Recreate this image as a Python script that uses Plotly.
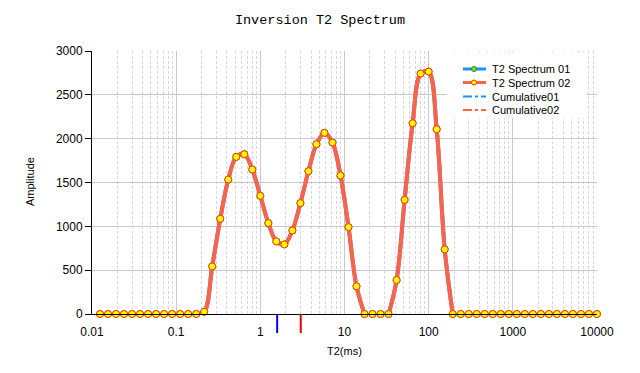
import plotly.graph_objects as go

# ---------------- data ----------------
title_text = "Inversion T2 Spectrum"
x_title = "T2(ms)"
y_title = "Amplitude"

t2_ms = [
    0.01245, 0.01551, 0.01931, 0.02404, 0.02994, 0.03728, 0.04642, 0.05780, 0.07197, 0.08962,
    0.1116, 0.1389, 0.1730, 0.2154, 0.2683, 0.3340, 0.4160, 0.5179, 0.6449, 0.8031,
    1.000, 1.245, 1.551, 1.931, 2.404, 2.994, 3.728, 4.642, 5.780, 7.197, 8.962,
    11.16, 13.89, 17.30, 21.54, 26.83, 33.40, 41.60, 51.79, 64.49, 80.31,
    100.0, 124.5, 155.1, 193.1, 240.4, 299.4, 372.8, 464.2, 578.0, 719.7, 896.2,
    1116, 1389, 1730, 2154, 2683, 3340, 4160, 5179, 6449, 8031, 10000,
]

amplitude_02 = [
    0, 0, 0, 0, 0, 0, 0, 0, 0, 0,
    0, 0, 0, 25, 543, 1086, 1534, 1792, 1823, 1648,
    1348, 1037, 828, 794, 953, 1265, 1629, 1937, 2066, 1956, 1580,
    991, 316, 0, 0, 0, 0, 387, 1302, 2176, 2742,
    2765, 2108, 737, 0, 0, 0, 0, 0, 0, 0, 0,
    0, 0, 0, 0, 0, 0, 0, 0, 0, 0, 0,
]
amplitude_01 = list(amplitude_02)  # series 01 lies exactly under series 02

series_names = ["T2 Spectrum 01", "T2 Spectrum 02", "Cumulative01", "Cumulative02"]
series_colors = ["#1E90FF", "#FF6347", "#1E90FF", "#FF6347"]

x_tick_vals = [0.01, 0.1, 1, 10, 100, 1000, 10000]
x_tick_text = ["0.01", "0.1", "1", "10", "100", "1000", "10000"]
y_tick_vals = [0, 500, 1000, 1500, 2000, 2500, 3000]

t2_mean_marks = [1.585, 3.02]          # T2 markers drawn under the x axis
t2_mean_colors = ["#0000FF", "#E00000"]

# ---------------- geometry ----------------
W, H = 640, 373
ML, MR, MT, MB = 92, 43, 51, 59
PW, PH = W - ML - MR, H - MT - MB


def px(x):
    return (x - ML) / PW


def py(y):
    return (H - MB - y) / PH


def line_values(vals):
    out = []
    n = len(vals)
    for i, v in enumerate(vals):
        near = [vals[j] for j in (i - 1, i, i + 1) if 0 <= j < n]
        out.append(v if any(near) else None)
    return out


fig = go.Figure()

# series 01 (underneath)
fig.add_trace(go.Scatter(
    x=t2_ms, y=line_values(amplitude_01), mode="lines", name=series_names[0],
    line=dict(color=series_colors[0], width=4, shape="spline", smoothing=1),
    connectgaps=False, showlegend=False, cliponaxis=True, hoverinfo="skip"))
fig.add_trace(go.Scatter(
    x=t2_ms, y=amplitude_01, mode="markers", name=series_names[0],
    marker=dict(size=7, color="#9ACD32", line=dict(color="#228B22", width=1)),
    showlegend=False, cliponaxis=False))
# series 02 (on top)
fig.add_trace(go.Scatter(
    x=t2_ms, y=line_values(amplitude_02), mode="lines", name=series_names[1],
    line=dict(color=series_colors[1], width=4, shape="spline", smoothing=1),
    connectgaps=False, showlegend=False, cliponaxis=True, hoverinfo="skip"))
fig.add_trace(go.Scatter(
    x=t2_ms, y=amplitude_02, mode="markers", name=series_names[1],
    marker=dict(size=7, color="#FFFF00", line=dict(color="#FF3300", width=1)),
    showlegend=False, cliponaxis=False))

shapes = []
annotations = []

# T2 marks below the axis
for v, c in zip(t2_mean_marks, t2_mean_colors):
    shapes.append(dict(type="line", xref="x", yref="paper",
                       x0=v, x1=v, y0=py(314), y1=py(333),
                       line=dict(color=c, width=2)))

# manual legend
shapes.append(dict(type="rect", xref="paper", yref="paper", layer="above",
                   x0=px(447), x1=px(586), y0=py(52), y1=py(118),
                   fillcolor="white", line=dict(width=0)))
row_y = [69, 82.5, 96.5, 110]
for i, (name, col) in enumerate(zip(series_names, series_colors)):
    yy = row_y[i]
    dash = "solid" if i < 2 else "dashdot"
    lw = 3 if i < 2 else 2
    shapes.append(dict(type="line", xref="paper", yref="paper", layer="above",
                       x0=px(463), x1=px(486), y0=py(yy), y1=py(yy),
                       line=dict(color=col, width=lw, dash=dash)))
    if i < 2:
        fill = "#9ACD32" if i == 0 else "#FFFF00"
        edge = "#228B22" if i == 0 else "#FF3300"
        r = 2.5
        shapes.append(dict(type="circle", xref="paper", yref="paper", layer="above",
                           x0=px(474 - r), x1=px(474 + r), y0=py(yy + r), y1=py(yy - r),
                           fillcolor=fill, line=dict(color=edge, width=1)))
    annotations.append(dict(text=name, xref="paper", yref="paper", x=px(490), y=py(yy),
                            xanchor="left", yanchor="middle", showarrow=False,
                            font=dict(family="Liberation Sans", size=11, color="black")))

# axis titles
annotations.append(dict(text=x_title, xref="paper", yref="paper", x=px(344), y=py(351),
                        xanchor="center", yanchor="middle", showarrow=False,
                        font=dict(family="Liberation Sans", size=11, color="black")))
annotations.append(dict(text=y_title, xref="paper", yref="paper", x=px(30), y=py(182),
                        xanchor="center", yanchor="middle", showarrow=False, textangle=-90,
                        font=dict(family="Liberation Sans", size=11, color="black")))

fig.update_layout(
    width=W, height=H,
    margin=dict(l=ML, r=MR, t=MT, b=MB, pad=0),
    paper_bgcolor="white", plot_bgcolor="white",
    title=dict(text=title_text, x=0.5, xanchor="center", y=1 - 19 / H, yanchor="middle",
               font=dict(family="Liberation Mono", size=13.5, color="black")),
    font=dict(family="Liberation Sans", size=12, color="black"),
    showlegend=False,
    shapes=shapes, annotations=annotations,
    xaxis=dict(type="log", range=[-2, 4], tickvals=x_tick_vals, ticktext=x_tick_text,
               showline=True, linecolor="black", linewidth=1, mirror=False,
               ticks="outside", ticklen=7, tickcolor="rgba(0,0,0,0)",
               showgrid=True, gridcolor="#C8C8C8", gridwidth=1, zeroline=False,
               tickfont=dict(family="Liberation Sans", size=12, color="black"),
               minor=dict(dtick="D1", showgrid=True, gridcolor="#D8D8D8",
                          griddash="3px,2px", gridwidth=1, ticks="")),
    yaxis=dict(range=[0, 3000], tickvals=y_tick_vals,
               showline=True, linecolor="black", linewidth=1, mirror=False,
               ticks="outside", ticklen=6, tickcolor="black", tickwidth=1,
               showgrid=True, gridcolor="#C8C8C8", gridwidth=1, zeroline=False,
               tickfont=dict(family="Liberation Sans", size=12, color="black")),
)

fig.write_html("out.html", config={"displayModeBar": False},
               post_script="document.body.style.margin='0';")
